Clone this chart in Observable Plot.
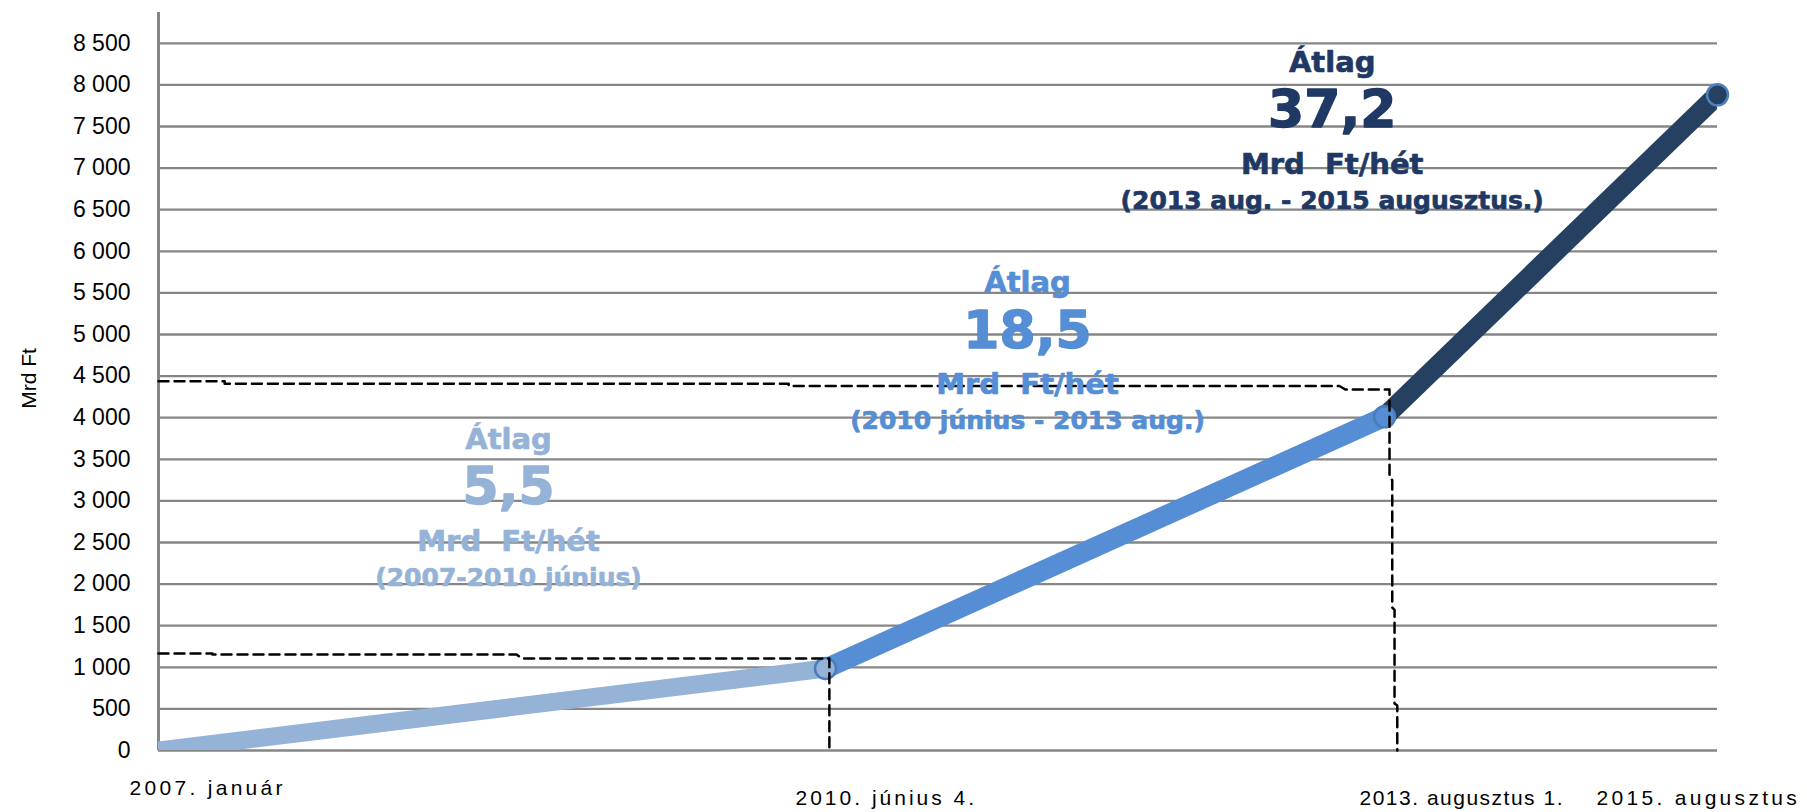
<!DOCTYPE html>
<html><head><meta charset="utf-8">
<script src="https://cdn.jsdelivr.net/npm/d3@7"></script>
<script src="https://cdn.jsdelivr.net/npm/@observablehq/plot@0.6"></script>
<style>html,body{margin:0;padding:0;background:#fff;overflow:hidden}</style>
</head><body><div id="chart"></div>
<script>
// ---- data ----
const pointDates = ["2007-01-01", "2010-06-04", "2013-08-01", "2015-08-01"];
const pointValues = [0, 985, 4010, 7880];
const xLabels = ["2007. január", "2010. június 4.", "2013. augusztus 1.", "2015. augusztus"];
const yTicks = [0, 500, 1000, 1500, 2000, 2500, 3000, 3500, 4000, 4500, 5000, 5500, 6000, 6500, 7000, 7500, 8000, 8500];
const yLabel = "Mrd Ft";
const avgWord = "Átlag";
const avgValues = ["5,5", "18,5", "37,2"];
const avgUnit = "Mrd\u00a0 Ft/hét";
const avgPeriods = ["(2007-2010 június)", "(2010 június - 2013 aug.)", "(2013 aug. - 2015 augusztus.)"];
// dashed guide lines: [date, value]
const guide1 = [["2007-01-01",1166],["2007-04-12",1166],["2007-04-12",1154],["2008-11-02",1154],["2008-11-12",1106],["2010-06-12",1106],["2010-06-12",0]];
const guide2 = [["2007-01-01",4438],["2007-05-05",4438],["2007-05-05",4407],["2010-03-27",4407],["2010-03-27",4381],["2013-04-30",4381],["2013-05-12",4339],["2013-08-12",4339],["2013-08-12",3281],["2013-08-18",3250],["2013-08-18",1719],["2013-08-23",1690],["2013-08-23",565],["2013-08-29",540],["2013-08-29",0]];

// ---- layout / style ----
const W = 1807, H = 812;
const parse = s => new Date(s + "T00:00:00Z");
const xRange = [158, 825, 1384, 1717];
const yMax = 8870;
const segColors = ["#95b3d7", "#558ed5", "#254061"];
const segWidths = [18, 20, 20];
const dotStrokes = ["#4a7ebb", "#4a7ebb", "#4f81bd"];
const textColors = ["#95b3d7", "#558ed5", "#1f3864"];
const annoAnchors = [["2008-10-18", 3160], ["2011-07-26", 5040], ["2013-04-15", 7690]];
const xLabelDx = [-29, -30, -25, -121];
const xLabelDy = [38, 48, 48, 48];
const xLabelSpacing = [3.3, 3.0, 1.5, 3.3];
const FONT = "Liberation Sans";
const BOLDFONT = "DejaVu Sans";

const pts = pointDates.map((d, i) => ({date: parse(d), value: pointValues[i]}));
const toPts = g => g.map(([d, v]) => ({date: parse(d), value: v}));
const fmt = d3.formatLocale({decimal: ",", thousands: " ", grouping: [3], currency: ["", ""]}).format(",d");

const marks = [];
marks.push(Plot.ruleY(yTicks, {stroke: "#868686", strokeWidth: 2.3}));
marks.push(Plot.ruleX([pts[0]], {x: "date", stroke: "#868686", strokeWidth: 3}));
for (let i = 0; i < 3; i++) {
  marks.push(Plot.line(pts.slice(i, i + 2), {x: "date", y: "value", stroke: segColors[i], strokeWidth: segWidths[i], strokeLinecap: "butt", clip: true}));
}
for (let i = 1; i < 4; i++) {
  marks.push(Plot.dot([pts[i]], {x: "date", y: "value", r: 10.5, fill: segColors[i - 1], stroke: dotStrokes[i - 1], strokeWidth: 2.5}));
}
for (const g of [guide1, guide2]) {
  marks.push(Plot.line(toPts(g), {x: "date", y: "value", stroke: "#000", strokeWidth: 2.5, strokeDasharray: "10,6", curve: "linear"}));
}
const annoLines = (i) => [
  {text: avgWord, dy: -48, size: 29},
  {text: avgValues[i], dy: 0, size: 52},
  {text: avgUnit, dy: 54, size: 29},
  {text: avgPeriods[i], dy: 90, size: 25}
];
for (let i = 0; i < 3; i++) {
  const a = {date: parse(annoAnchors[i][0]), value: annoAnchors[i][1]};
  for (const l of annoLines(i)) {
    marks.push(Plot.text([a], {x: "date", y: "value", text: () => l.text, dy: l.dy, fontSize: l.size, fontWeight: "bold", fontFamily: BOLDFONT, fill: textColors[i], stroke: textColors[i], strokeWidth: l.size > 40 ? 1.4 : 0.7, textAnchor: "middle", lineAnchor: "middle"}));
  }
}
for (let i = 0; i < 4; i++) {
  marks.push(Plot.text([pts[i]], {x: "date", y: () => 0, text: () => xLabels[i], dx: xLabelDx[i], dy: xLabelDy[i], textAnchor: "start", fontSize: 21, fontFamily: FONT, fill: "#000"}));
}
marks.push(Plot.text([yLabel], {frameAnchor: "left", dx: -129, dy: -3, rotate: -90, textAnchor: "middle", fontSize: 21, fontFamily: FONT, fill: "#000"}));

const chart = Plot.plot({
  width: W, height: H,
  marginLeft: 158, marginRight: W - 1717, marginTop: 12, marginBottom: H - 750,
  style: {fontFamily: FONT, fontSize: "23px", background: "#fff", color: "#000", overflow: "visible"},
  x: {type: "utc", domain: pointDates.map(parse), range: xRange, axis: null},
  y: {domain: [0, yMax], ticks: yTicks, tickFormat: fmt, tickSize: 0, tickPadding: 28, label: null},
  marks
});
d3.select(chart).selectAll("text").each(function() {
  const k = xLabels.indexOf(this.textContent);
  if (k >= 0) this.style.letterSpacing = xLabelSpacing[k] + "px";
});
document.getElementById("chart").appendChild(chart);
</script>
</body></html>
